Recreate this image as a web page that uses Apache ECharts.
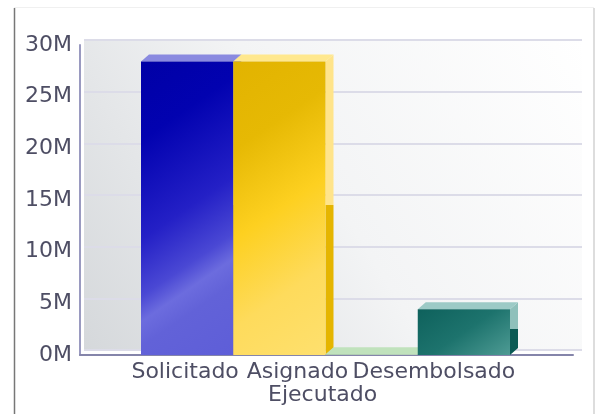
<!DOCTYPE html>
<html><head><meta charset="utf-8">
<script src="https://cdn.jsdelivr.net/npm/echarts@6/dist/echarts.min.js"></script>
<style>html,body{margin:0;padding:0;background:#fff}#c{width:595px;height:414px}</style>
</head><body><div id="c"></div>
<script>
const categories = ['Solicitado', 'Asignado', 'Ejecutado', 'Desembolsado'];
const values = [28400000, 28400000, 80000, 4420000];
const yTicks = ['0M', '5M', '10M', '15M', '20M', '25M', '30M'];

const faces = [
  {front:[[0,'#0000a6'],[0.22,'#0202b0'],[0.5,'#2420c6'],[0.66,'#4a48d4'],[0.73,'#6c6cde'],[0.8,'#6262d8'],[1,'#5e5ed8']], top:'#8a8ae0', sideUp:'#7a7ad8', sideLo:'#3030b0'},
  {front:[[0,'#e2b300'],[0.25,'#e6b904'],[0.5,'#fdd020'],[0.75,'#fedb5c'],[1,'#fee06e']], top:'#ffe88e', sideUp:'#ffe48a', sideLo:'#e5b500'},
  {front:[[0,'#b4dab0'],[1,'#c4e4c0']], top:'#c0e2bc', sideUp:'#b0d8ac', sideLo:'#8cc088'},
  {front:[[0,'#0e615c'],[0.5,'#1d736d'],[1,'#4e9b94']], top:'#9ccac6', sideUp:'#8fc0bb', sideLo:'#0b5a54'}
];
const DX = 8, DY = 7;
function renderItem(params, api) {
  const i = api.value(0), v = api.value(1);
  const t = api.coord([i, v]), b = api.coord([i, 0]);
  const w = api.size([1, 0])[0];
  const x0 = t[0] - w / 2, x1 = t[0] + w / 2, yt = t[1], yb = b[1];
  const h = Math.max(yb - yt, 0);
  const f = faces[i];
  const ux = 0.565, uy = 0.825, L = w * ux + h * uy;
  return {type: 'group', children: [
    {type: 'polygon', shape: {points: [[x1, yt], [x1 + DX, yt - DY], [x1 + DX, yb - DY], [x1, yb]]},
      style: {fill: {type: 'linear', x: 0, y: 0, x2: 0, y2: 1, colorStops: [{offset: 0, color: f.sideUp}, {offset: 0.5, color: f.sideUp}, {offset: 0.5, color: f.sideLo}, {offset: 1, color: f.sideLo}]}}},
    {type: 'polygon', shape: {points: [[x0, yt], [x0 + DX, yt - DY], [x1 + DX, yt - DY], [x1, yt]]}, style: {fill: f.top}},
    {type: 'rect', shape: {x: x0, y: yt, width: w, height: h},
      style: {fill: {type: 'linear', global: true, x: x0, y: yt, x2: x0 + ux * L, y2: yt + uy * L,
        colorStops: f.front.map(s => ({offset: s[0], color: s[1]}))}}}
  ]};
}

const chart = echarts.init(document.getElementById('c'), null, {renderer: 'canvas'});
const font = 'DejaVu Sans';
const labelRich = {
  s0: {padding: [0, 4, 0, 0]},
  s1: {padding: [0, 0, 0, 36]},
  s2: {padding: [0, 98, 0, 0]},
  s3: {padding: [0, 60, 0, 0]}
};
Object.values(labelRich).forEach(r => { r.fontFamily = font; r.fontSize = 22; r.color = '#4e4e64'; r.lineHeight = 23; });
chart.setOption({
  animation: false,
  backgroundColor: '#fff',
  graphic: [
    {type: 'line', shape: {x1: 14.5, y1: 8, x2: 14.5, y2: 414}, style: {stroke: '#777', lineWidth: 1.5}},
    {type: 'line', shape: {x1: 14, y1: 7.5, x2: 594, y2: 7.5}, style: {stroke: '#f0f0f0', lineWidth: 1}},
    {type: 'line', shape: {x1: 594, y1: 8, x2: 594, y2: 414}, style: {stroke: '#bbb', lineWidth: 1}}
  ],
  grid: [
    {left: 84, right: 13, top: 40, bottom: 64, show: true, borderWidth: 0,
     backgroundColor: {type: 'linear', x: 0, y: 1, x2: 1, y2: 0, colorStops: [{offset: 0, color: '#d5d8db'}, {offset: 0.5, color: '#f3f4f5'}, {offset: 1, color: '#ffffff'}]}},
    {left: 80, right: 22, top: 45, bottom: 59},
    {left: 141, right: 85, top: 45, bottom: 59}
  ],
  xAxis: [
    {gridIndex: 0, type: 'category', data: categories, show: false},
    {gridIndex: 1, type: 'category', data: categories, axisTick: {show: false}, axisLabel: {show: false},
     axisLine: {lineStyle: {color: '#8585aa', width: 2}}},
    {gridIndex: 2, type: 'category', data: categories, axisTick: {show: false}, axisLine: {show: false},
     axisLabel: {color: '#4e4e64', fontFamily: font, fontSize: 22, margin: 6, lineHeight: 23, interval: 0, rich: labelRich,
       formatter: (v, i) => (i === 2 ? '\n{s2|' + v + '}' : '{s' + i + '|' + v + '}')}}
  ],
  yAxis: [
    {gridIndex: 0, type: 'value', min: 0, max: 30000000, interval: 5000000, axisLabel: {show: false}, axisLine: {show: false}, axisTick: {show: false},
     splitLine: {lineStyle: {color: '#dcdce8', width: 2}}},
    {gridIndex: 1, type: 'value', min: 0, max: 30000000, interval: 5000000, splitLine: {show: false}, axisTick: {show: false},
     axisLine: {show: true, lineStyle: {color: '#9a9ac0', width: 2}},
     axisLabel: {color: '#4e4e64', fontFamily: font, fontSize: 22, margin: 8, formatter: (v) => yTicks[Math.round(v / 5000000)]}},
    {gridIndex: 2, type: 'value', min: 0, max: 30000000, show: false}
  ],
  series: [{
    type: 'custom', xAxisIndex: 2, yAxisIndex: 2, renderItem: renderItem,
    data: values.map((v, i) => [i, v]), clip: false
  }]
});
</script></body></html>
